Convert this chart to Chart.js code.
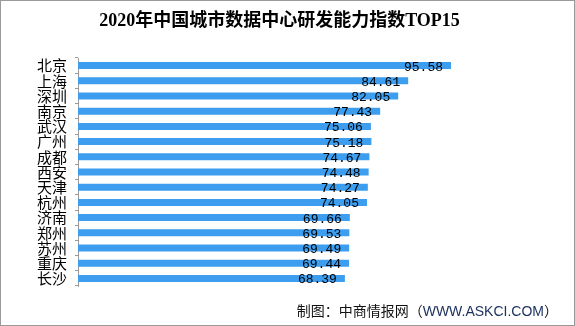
<!DOCTYPE html>
<html>
<head>
<meta charset="utf-8">
<script src="https://cdn.jsdelivr.net/npm/chart.js@4/dist/chart.umd.min.js"></script>
<style>
html,body{margin:0;padding:0;background:#fff;}
#wrap{position:relative;width:575px;height:326px;box-sizing:border-box;border:1px solid #9a9a9a;background:#fff;}
#c{position:absolute;left:0;top:0;}
#footer{position:absolute;right:16px;top:301px;font-family:"Noto Sans CJK SC","Noto Sans",sans-serif;font-size:14px;line-height:16px;color:#111;white-space:nowrap;}
#footer .u{font-family:"Liberation Sans","DejaVu Sans",sans-serif;color:#1b2f5c;}
</style>
</head>
<body>
<div id="wrap">
<canvas id="c" width="573" height="324"></canvas>
<div id="footer">制图：中商情报网（<span class="u">WWW.ASKCI.COM</span>）</div>
</div>
<script>
const cities = ["北京","上海","深圳","南京","武汉","广州","成都","西安","天津","杭州","济南","郑州","苏州","重庆","长沙"];
const values = [95.58,84.61,82.05,77.43,75.06,75.18,74.67,74.48,74.27,74.05,69.66,69.53,69.49,69.44,68.39];
const titleText = "2020年中国城市数据中心研发能力指数TOP15";

const valueLabels = {
  id:'valueLabels',
  afterDatasetsDraw(chart){
    const ctx = chart.ctx;
    const meta = chart.getDatasetMeta(0);
    ctx.save();
    ctx.font = '13px "Liberation Mono", "DejaVu Sans Mono", monospace';
    ctx.fillStyle = '#000';
    ctx.textAlign = 'right';
    ctx.textBaseline = 'middle';
    meta.data.forEach((el,i)=>{
      ctx.fillText(values[i].toFixed(2), el.x - 8, el.y + 1.5);
    });
    ctx.restore();
  }
};

new Chart(document.getElementById('c'), {
  type:'bar',
  data:{
    labels: cities,
    datasets:[{
      data: values,
      backgroundColor:'#3d9ef0',
      borderWidth:0,
      barPercentage:0.46,
      categoryPercentage:1.0
    }]
  },
  options:{
    indexAxis:'y',
    responsive:false,
    animation:false,
    devicePixelRatio:1,
    layout:{padding:{left:0,right:16,top:0,bottom:39}},
    plugins:{
      legend:{display:false},
      tooltip:{enabled:false},
      title:{
        display:true,
        text:titleText,
        color:'#000',
        font:{family:'"Liberation Serif","Noto Sans CJK SC",serif',size:18,weight:'bold'},
        padding:{top:10,bottom:25.4}
      }
    },
    scales:{
      x:{
        display:false,
        min:0,
        max:123
      },
      y:{
        afterFit(scale){ scale.width = 77; },
        border:{display:true,color:'#9a9a9a',width:1},
        grid:{display:true,drawOnChartArea:false,drawTicks:true,tickLength:3,offset:true,color:'#9a9a9a'},
        ticks:{
          color:'#000',
          padding:8,
          autoSkip:false,
          font:{family:'"Noto Sans CJK SC",sans-serif',size:15}
        }
      }
    }
  },
  plugins:[valueLabels]
});
</script>
</body>
</html>
